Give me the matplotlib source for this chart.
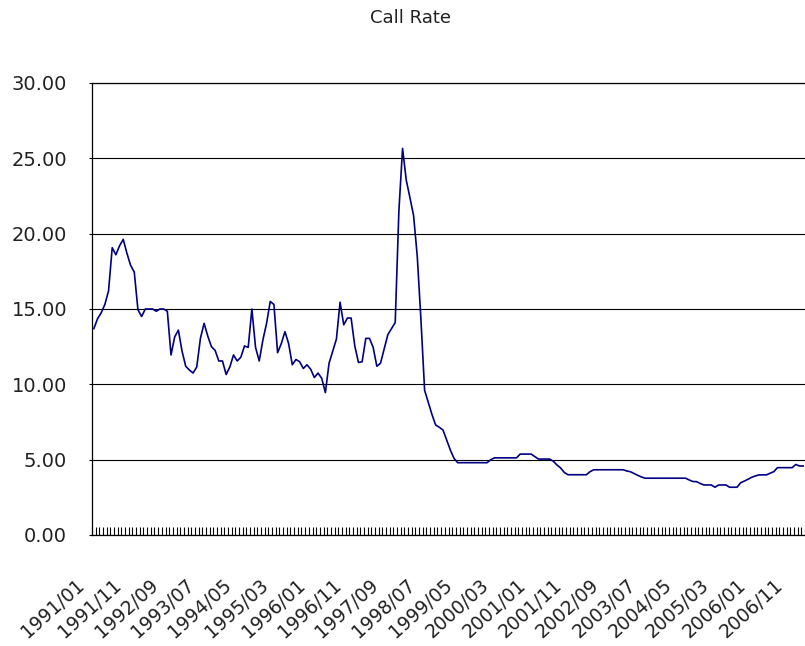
import matplotlib
matplotlib.use("Agg")
import matplotlib.pyplot as plt
from matplotlib.transforms import ScaledTranslation
import numpy as np
import pandas as pd

# Monthly call rate (%), January 1991 onward
call_rate = [
    13.70, 14.35, 14.75, 15.30, 16.20, 19.07, 18.60, 19.20, 19.62, 18.70,
    17.90, 17.45, 14.95, 14.50, 15.00, 15.00, 15.00, 14.85, 15.00, 15.00,
    14.85, 11.95, 13.15, 13.60, 12.20, 11.20, 10.95, 10.75, 11.15, 13.05,
    14.05, 13.20, 12.50, 12.25, 11.55, 11.55, 10.65, 11.15, 11.95, 11.55,
    11.80, 12.55, 12.45, 15.00, 12.45, 11.55, 12.95, 14.05, 15.50, 15.30,
    12.10, 12.70, 13.50, 12.70, 11.30, 11.65, 11.50, 11.05, 11.30, 11.00,
    10.45, 10.75, 10.40, 9.45, 11.40, 12.20, 13.00, 15.45, 13.95, 14.40,
    14.40, 12.55, 11.45, 11.50, 13.05, 13.05, 12.45, 11.20, 11.40, 12.35,
    13.30, 13.70, 14.10, 21.50, 25.66, 23.56, 22.40, 21.20, 18.50, 14.30,
    9.60, 8.80, 8.00, 7.30, 7.15, 6.97, 6.30, 5.64, 5.09, 4.80,
    4.80, 4.80, 4.80, 4.80, 4.80, 4.80, 4.80, 4.80, 5.00, 5.12,
    5.12, 5.12, 5.12, 5.12, 5.12, 5.12, 5.37, 5.37, 5.37, 5.37,
    5.20, 5.04, 5.04, 5.04, 5.04, 4.90, 4.65, 4.45, 4.15, 4.00,
    4.00, 4.00, 4.00, 4.00, 4.00, 4.20, 4.33, 4.33, 4.33, 4.33,
    4.33, 4.33, 4.33, 4.33, 4.33, 4.25, 4.20, 4.08, 3.96, 3.85,
    3.77, 3.77, 3.77, 3.77, 3.77, 3.77, 3.77, 3.77, 3.77, 3.77,
    3.77, 3.77, 3.65, 3.55, 3.54, 3.42, 3.32, 3.32, 3.32, 3.17,
    3.32, 3.32, 3.32, 3.17, 3.17, 3.17, 3.47, 3.58, 3.70, 3.83,
    3.92, 3.99, 3.99, 3.99, 4.10, 4.20, 4.47, 4.47, 4.47, 4.47,
    4.47, 4.68, 4.58, 4.58,
]

months = pd.period_range("1991-01", periods=len(call_rate), freq="M")
month_labels = [m.strftime("%Y/%m") for m in months]
label_step = 10
y_ticks = [0, 5, 10, 15, 20, 25, 30]

W, H, DPI = 805, 646, 100
fig = plt.figure(figsize=(W / DPI, H / DPI), dpi=DPI)
ax = fig.add_axes([92 / W, (H - 535) / H, (805 - 92) / W, (535 - 83) / H])

x = np.arange(len(call_rate))
ax.plot(x, call_rate, color="#000080", lw=1.2, solid_joinstyle="round", zorder=3)

ax.set_xlim(-0.5, len(call_rate) - 0.5)
ax.set_ylim(0, 30)

# horizontal gridlines
ax.set_yticks(y_ticks)
ax.set_yticklabels([f"{v:.2f}" for v in y_ticks], fontsize=14, color="#222222")
ax.yaxis.grid(True, color="black", lw=0.8)
ax.tick_params(axis="y", length=2, pad=16, color="black")

# month boundary ticks on the category axis
ax.set_xticks(np.arange(-0.5, len(call_rate), 1.0))
ax.set_xticklabels([])
ax.tick_params(axis="x", direction="in", length=6, width=0.8, color="black")

for s in ["left", "bottom", "top"]:
    ax.spines[s].set_color("black")
    ax.spines[s].set_linewidth(0.9)
ax.spines["right"].set_visible(False)

# rotated month labels every tenth category
offset = ax.get_xaxis_transform() + ScaledTranslation(-12 / DPI, -47 / DPI, fig.dpi_scale_trans)
for i in range(0, len(call_rate), label_step):
    ax.text(i, 0, month_labels[i], transform=offset, rotation=42,
            rotation_mode="anchor", ha="right", va="center",
            fontsize=13.5, color="#222222", clip_on=False)

fig.text(410 / W, 1 - 18 / H, "Call Rate", ha="center", va="center",
         fontsize=13, color="#222222")

fig.savefig("out.png", dpi=DPI)
